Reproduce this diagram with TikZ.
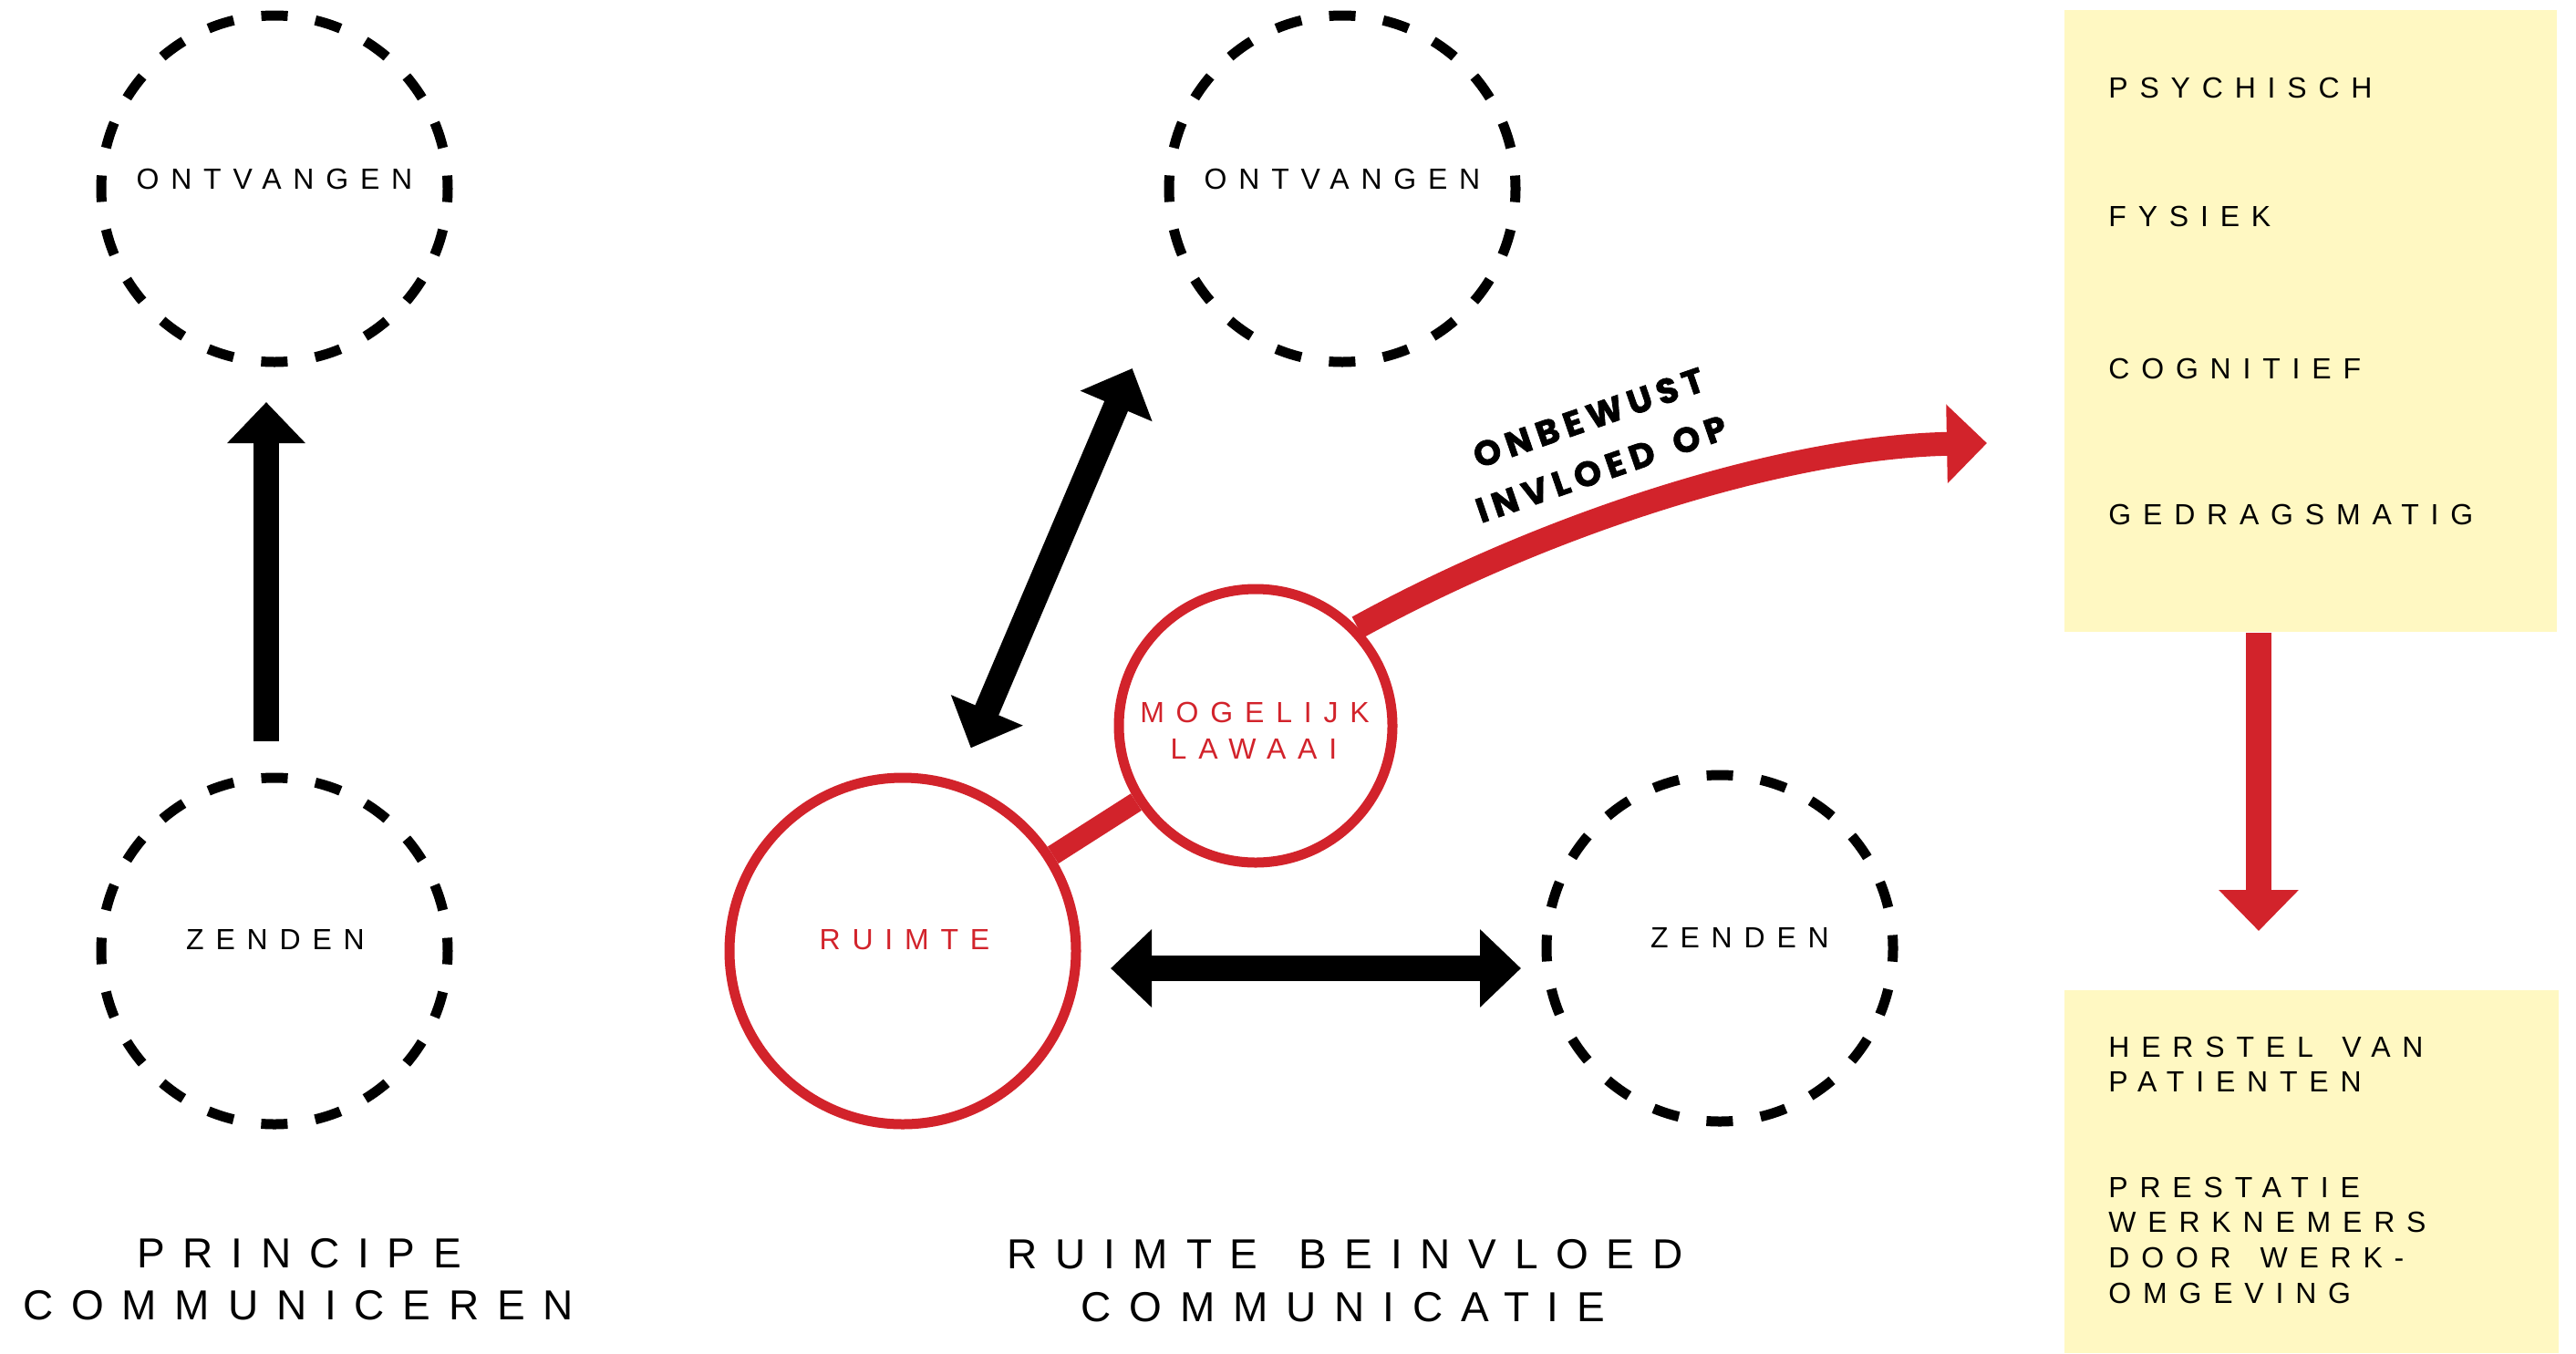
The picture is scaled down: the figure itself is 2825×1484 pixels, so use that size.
\documentclass[tikz,border=0pt]{standalone}
\usepackage{fontspec}
\setmainfont{Liberation Sans}
\newfontfamily\spacedfont{Liberation Sans}[LetterSpace=40]
\newfontfamily\titlefont{Liberation Sans}[LetterSpace=43]
\newfontfamily\heavyfont{Poppins}[LetterSpace=18,FakeBold=2]
\usetikzlibrary{arrows.meta}
\definecolor{myred}{HTML}{D2232B}
\definecolor{myyellow}{HTML}{FFF8C2}
\begin{document}
\begin{tikzpicture}[x=0.5pt,y=-0.5pt,
  dcirc/.style={circle,draw=black,line width=5.5pt,dash pattern=on 14.5pt off 15.345pt,dash phase=7.25pt,minimum size=190pt,inner sep=0pt},
  rcirc/.style={circle,draw=myred,line width=5.5pt,inner sep=0pt},
  lbl/.style={font=\spacedfont\fontsize{16}{19}\selectfont,inner sep=0pt,anchor=base},
  boxtxt/.style={font=\spacedfont\fontsize{16}{19}\selectfont,inner sep=0pt,anchor=base west},
  ttl/.style={font=\titlefont\fontsize{23}{28}\selectfont,inner sep=0pt,anchor=base},
  heavy/.style={font=\heavyfont\bfseries\fontsize{19}{22}\selectfont,inner sep=0pt,anchor=base west,rotate=19},
  ybox/.style={rectangle,fill=myyellow,draw=none,inner sep=0pt,anchor=north west},
  barrow/.style={draw=black,line width=14pt,-{Triangle[length=22.5pt,width=41.5pt]}},
  bdarrow/.style={draw=black,line width=14pt,{Triangle[length=22.5pt,width=41.5pt]}-{Triangle[length=22.5pt,width=41.5pt]}},
  rarrow/.style={draw=myred,line width=13pt,-{Triangle[length=22pt,width=42pt]}},
  rlink/.style={draw=myred,line width=11pt}
]
\useasboundingbox (0,0) rectangle (2825,1484);

% yellow boxes
\node[ybox,minimum width=270pt,minimum height=341pt] (box1) at (2264,11) {};
\node[ybox,minimum width=271pt,minimum height=199pt] (box2) at (2264,1086) {};

% circles
\node[dcirc] (ontvL) at (301,207) {};
\node[dcirc] (zendL) at (301,1043) {};
\node[dcirc] (ontvM) at (1472,207) {};
\node[dcirc] (zendR) at (1886,1040) {};
\node[rcirc,minimum size=190pt] (ruimte) at (990,1043) {};
\node[rcirc,minimum size=150pt] (mog) at (1377,796) {};

% circle labels
\node[lbl] (tOntvL) at (301,207) {ONTVANGEN};
\node[lbl] (tZendL) at (302,1041) {ZENDEN};
\node[lbl] (tOntvM) at (1472,207) {ONTVANGEN};
\node[lbl] (tZendR) at (1908,1039) {ZENDEN};
\node[lbl,text=myred] (tRuimte) at (992,1041) {RUIMTE};
\node[lbl,text=myred] (tMog1) at (1376,792) {MOGELIJK};
\node[lbl,text=myred] (tMog2) at (1375,832) {LAWAAI};

% titles
\node[ttl] (t1a) at (328,1390) {PRINCIPE};
\node[ttl] (t1b) at (327,1447) {COMMUNICEREN};
\node[ttl] (t2a) at (1475,1391) {RUIMTE\hspace{6pt} BEINVLOED};
\node[ttl] (t2b) at (1473,1449) {COMMUNICATIE};

% box texts
\node[boxtxt] (p1) at (2312,107) {PSYCHISCH};
\node[boxtxt] (p2) at (2312,248) {FYSIEK};
\node[boxtxt] (p3) at (2312,415) {COGNITIEF};
\node[boxtxt] (p4) at (2312,575) {GEDRAGSMATIG};
\node[boxtxt] (q1) at (2312,1159) {HERSTEL\hspace{5pt} VAN};
\node[boxtxt] (q2) at (2312,1197) {PATIENTEN};
\node[boxtxt] (q3) at (2312,1313) {PRESTATIE};
\node[boxtxt] (q4) at (2312,1351) {WERKNEMERS};
\node[boxtxt] (q5) at (2312,1390) {DOOR\hspace{5pt} WERK-};
\node[boxtxt] (q6) at (2312,1429) {OMGEVING};

% slanted heavy label
\node[heavy] (onb1) at (1621,514) {ONBEWUST};
\node[heavy] (onb2) at (1624,574) {INVLOED\hspace{4pt} OP};

% connectors
\draw[barrow,shorten <=17.25pt,shorten >=19.25pt] ([xshift=-4.5pt]zendL.north) -- ([xshift=-4.5pt]ontvL.south);

\coordinate (dA) at (1064.7,820.3);
\coordinate (dB) at (1241.7,404);
\draw[bdarrow] (dA) -- (dB);

\coordinate (hA) at (1218,1062);
\coordinate (hB) at (1668,1062);
\draw[bdarrow] (hA) -- (hB);

\draw[rlink] (ruimte) -- (mog);

\coordinate (tipR) at (2179,486);
\draw[rarrow] (mog.44) .. controls (1700,572) and (1960,490) .. (tipR);

\coordinate (rv) at (2477,1021);
\draw[rarrow,line width=14pt,-{Triangle[length=22.5pt,width=42.5pt]}] (box1.south -| rv) -- (rv);
\end{tikzpicture}
\end{document}
